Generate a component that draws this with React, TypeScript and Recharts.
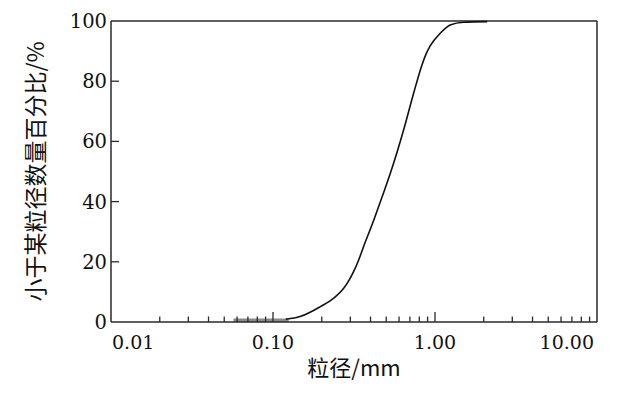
import React from 'react';
import { LineChart, Line, XAxis, YAxis, ReferenceLine } from 'recharts';

// particle size (mm) and cumulative number percent
const sizes = [0.12, 0.147, 0.196, 0.237, 0.273, 0.295, 0.315, 0.338, 0.362, 0.408, 0.471, 0.53, 0.64, 0.738, 0.832, 0.88, 0.936, 1.08, 1.24, 1.5, 2.1];
const percents = [0.9, 1.8, 5.1, 7.9, 11.2, 13.9, 16.8, 20.6, 25, 32.2, 41.5, 49.4, 63.8, 76, 85.5, 89, 91.8, 96, 98.7, 99.6, 99.8];

// grey flat segment sitting on the axis at small sizes
const flatSizes = [0.057, 0.125];
const flatPercents = [0.6, 0.6];

const majorTicks = [0.01, 0.1, 1, 10];
const minorTicks = [
  0.02, 0.03, 0.04, 0.05, 0.06, 0.07, 0.08, 0.09,
  0.2, 0.3, 0.4, 0.5, 0.6, 0.7, 0.8, 0.9,
  2, 3, 4, 5, 6, 7, 8, 9,
];
const xTickLabels: Record<number, string> = { 0.01: '0.01', 0.1: '0.10', 1: '1.00', 10: '10.00' };
const yTicks = [0, 20, 40, 60, 80, 100];

const data = sizes.map((s, i) => ({ size: s, pct: percents[i] }));
const flatData = flatSizes.map((s, i) => ({ size: s, pct: flatPercents[i] }));

const serif = 'DejaVu Serif';
const cjk = '"Noto Sans CJK SC", sans-serif';
const axisColor = '#2a2a2a';

const XTick = ({ x, y, payload }: any) => {
  const v = payload.value;
  const isMajor = majorTicks.includes(v);
  const label = xTickLabels[v];
  let anchor: 'start' | 'middle' | 'end' = 'middle';
  if (v === 0.01) anchor = 'start';
  if (v === 10) anchor = 'end';
  return (
    <g>
      {v !== 0.01 && v !== 10 && (
        <line x1={x} x2={x} y1={y} y2={y - (isMajor ? 10 : 5.5)} stroke={axisColor} strokeWidth={1.3} />
      )}
      {label && (
        <text
          x={anchor === 'start' ? x + 1 : anchor === 'end' ? x - 3 : x}
          y={y + 27}
          textAnchor={anchor}
          fontFamily={serif}
          fontSize={19}
          fill="#111"
        >
          {label}
        </text>
      )}
    </g>
  );
};

const YTick = ({ x, y, payload }: any) => {
  const v = payload.value;
  return (
    <g>
      {v !== 0 && v !== 100 && <line x1={x} x2={x + 8} y1={y} y2={y} stroke={axisColor} strokeWidth={1.3} />}
      <text x={x - 4} y={y + 7} textAnchor="end" fontFamily={serif} fontSize={19.5} fill="#111">
        {v}
      </text>
    </g>
  );
};

export default function App() {
  return (
    <div style={{ position: 'absolute', left: 0, top: 0, width: 637, height: 394, background: '#fff' }}>
      <LineChart width={637} height={394} margin={{ top: 21, right: 40, left: 0, bottom: 0 }}>
        <XAxis
          dataKey="size"
          type="number"
          scale="log"
          domain={[0.01, 10]}
          allowDataOverflow
          ticks={[...majorTicks, ...minorTicks].sort((a, b) => a - b)}
          interval={0}
          tick={<XTick />}
          tickLine={false}
          tickSize={0}
          tickMargin={0}
          height={72}
          axisLine={{ stroke: axisColor, strokeWidth: 1.5 }}
          label={{ value: '粒径/mm', position: 'insideBottom', offset: 18, style: { fontFamily: cjk, fontSize: 22, fill: '#111' } }}
        />
        <YAxis
          type="number"
          domain={[0, 100]}
          ticks={yTicks}
          interval={0}
          tick={<YTick />}
          tickLine={false}
          tickSize={0}
          tickMargin={0}
          width={111}
          axisLine={{ stroke: axisColor, strokeWidth: 1.5 }}
          label={{ value: '小于某粒径数量百分比/%', angle: -90, position: 'insideLeft', offset: 36, style: { textAnchor: 'middle', fontFamily: cjk, fontSize: 23, fill: '#111' } }}
        />
        <ReferenceLine y={100} stroke={axisColor} strokeWidth={1.5} />
        <ReferenceLine x={10} stroke={axisColor} strokeWidth={1.5} />
        <Line data={flatData} dataKey="pct" type="linear" stroke="#8a8a8a" strokeWidth={3.5} dot={false} isAnimationActive={false} />
        <Line data={data} dataKey="pct" type="monotone" stroke="#111" strokeWidth={1.6} dot={false} isAnimationActive={false} />
      </LineChart>
    </div>
  );
}
